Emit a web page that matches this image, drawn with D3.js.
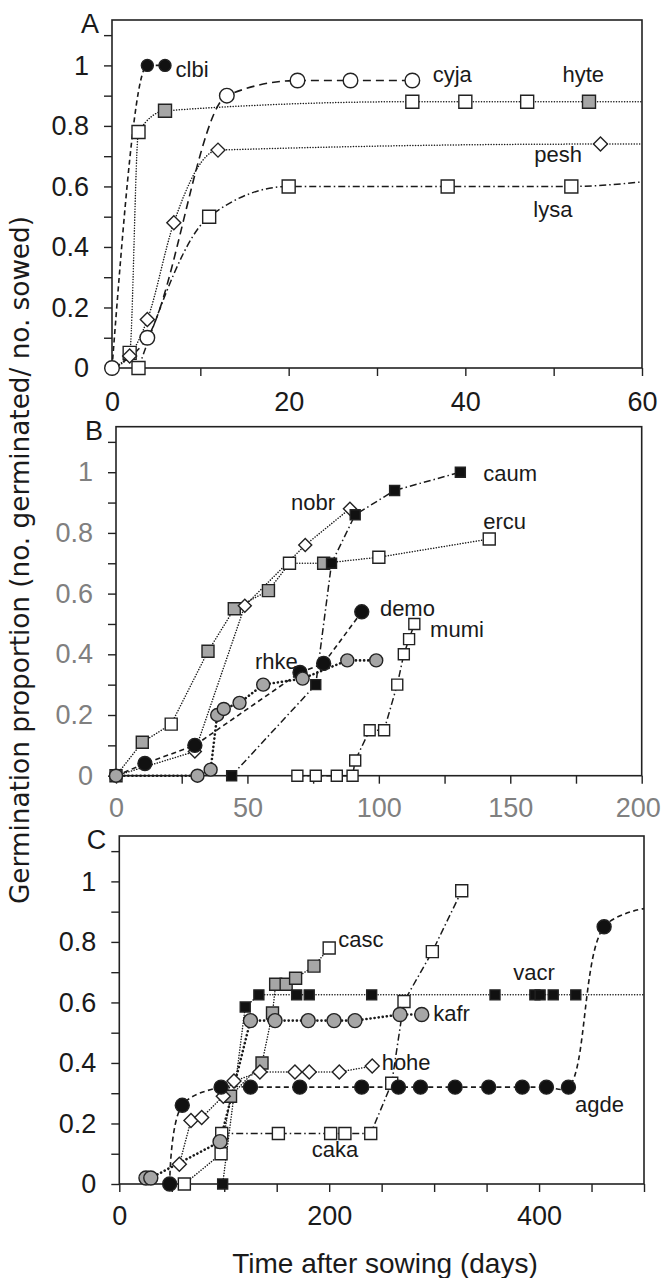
<!DOCTYPE html>
<html>
<head>
<meta charset="utf-8">
<script src="https://cdn.jsdelivr.net/npm/d3@7"></script>
<style>
  body { margin: 0; background: #fff; }
  svg { display: block; font-family: "Liberation Sans", Arial, sans-serif; }
</style>
</head>
<body>
<svg id="chart" width="662" height="1278"></svg>
<script>
// --- Data: [day, proportion, marker fill] ('w' white, 'g' grey, 'b' black, '' = no marker) ---
// Panel A
const aClbi = [[0, 0, ''], [4, 1, 'b'], [6, 1, 'b']];
const aCyja = [[0, 0, 'w'], [4, 0.1, 'w'], [13, 0.9, 'w'], [21, 0.95, 'w'], [27, 0.95, 'w'], [34, 0.95, 'w']];
const aHyte = [[0, 0, ''], [2, 0.05, 'w'], [3, 0.78, 'w'], [6, 0.85, 'g'], [34, 0.88, 'w'], [40, 0.88, 'w'], [47, 0.88, 'w'], [54, 0.88, 'g'], [60, 0.88, '']];
const aPesh = [[0, 0, ''], [2, 0.04, 'w'], [4, 0.16, 'w'], [7, 0.48, 'w'], [12, 0.72, 'w'], [55.3, 0.74, 'w'], [60, 0.74, '']];
const aLysa = [[3, 0, 'w'], [11, 0.5, 'w'], [20, 0.6, 'w'], [38, 0.6, 'w'], [52, 0.6, 'w'], [60, 0.615, '']];

// Panel B
const bErcu = [[0, 0, 'g'], [10, 0.11, 'g'], [21, 0.17, 'w'], [35, 0.41, 'g'], [45, 0.55, 'g'], [58, 0.61, 'g'], [66, 0.70, 'w'], [79, 0.70, 'g'], [100, 0.72, 'w'], [142, 0.78, 'w']];
const bNobr = [[0, 0, ''], [30, 0.08, 'w'], [49, 0.56, 'w'], [72, 0.76, 'w'], [89, 0.88, 'w']];
const bCaum = [[44, 0, 'b'], [76, 0.30, 'b'], [82, 0.70, 'b'], [91, 0.86, 'b'], [106, 0.94, 'b'], [131, 1.0, 'b']];
const bDemo = [[0, 0, ''], [11, 0.04, 'b'], [30, 0.10, 'b'], [70, 0.34, 'b'], [79, 0.37, 'b'], [93.5, 0.54, 'b']];
const bRhke = [[0, 0, 'g'], [31, 0, 'g'], [36, 0.02, 'g'], [38.5, 0.20, 'g'], [41, 0.22, 'g'], [47, 0.24, 'g'], [56, 0.30, 'g'], [71, 0.32, 'g'], [88, 0.38, 'g'], [99, 0.38, 'g']];
const bMumi = [[69, 0, 'w'], [76, 0, 'w'], [84, 0, 'w'], [90, 0, 'w'], [91, 0.05, 'w'], [96.5, 0.15, 'w'], [102, 0.15, 'w'], [107, 0.30, 'w'], [109.5, 0.40, 'w'], [111.5, 0.45, 'w'], [113.5, 0.50, 'w']];

// Panel C
const cKafr = [[25.4, 0.02, 'g'], [30, 0.02, 'g'], [96, 0.14, 'g'], [125, 0.54, 'g'], [148.4, 0.54, 'g'], [180, 0.54, 'g'], [204.6, 0.54, 'g'], [224.6, 0.54, 'g'], [267.5, 0.56, 'g'], [288.2, 0.56, 'g']];
const cCasc = [[62, 0, 'w'], [97, 0.10, 'w'], [106, 0.29, 'g'], [136, 0.40, 'g'], [146, 0.565, 'g'], [149, 0.66, 'g'], [159, 0.66, 'g'], [168, 0.68, 'g'], [185.5, 0.72, 'g'], [200, 0.78, 'w']];
const cHohe = [[57.2, 0.065, 'w'], [68.3, 0.21, 'w'], [78.5, 0.22, 'w'], [99.1, 0.29, 'w'], [109.3, 0.34, 'w'], [134, 0.37, 'w'], [167.4, 0.37, 'w'], [181, 0.37, 'w'], [209.6, 0.37, 'w'], [241, 0.39, 'w']];
const cCaka = [[97.6, 0.167, 'w'], [151.6, 0.167, 'w'], [201.4, 0.167, 'w'], [215, 0.167, 'w'], [239.6, 0.167, 'w'], [259.6, 0.333, 'w'], [271.3, 0.603, 'w'], [298.3, 0.768, 'w'], [326.3, 0.969, 'w']];
const cVacr = [[98.5, 0, 'b'], [120, 0.585, 'b'], [133, 0.625, 'b'], [169, 0.625, 'b'], [181, 0.625, 'b'], [240.5, 0.625, 'b'], [358, 0.625, 'b'], [396, 0.625, 'b'], [401, 0.625, 'b'], [413.5, 0.625, 'b'], [435, 0.625, 'b'], [500, 0.625, '']];
const cAgde = [[48, 0, 'b'], [60, 0.26, 'b'], [97, 0.32, 'b'], [125, 0.32, 'b'], [172, 0.32, 'b'], [231, 0.32, 'b'], [266, 0.32, 'b'], [287, 0.32, 'b'], [320, 0.32, 'b'], [352, 0.32, 'b'], [384, 0.32, 'b'], [407, 0.32, 'b'], [428, 0.32, 'b'], [462, 0.85, 'b'], [500, 0.91, '']];

// --- Axis ticks ---
const yTicks = d3.range(0, 1.11, 0.1);
const yTickLabels = [0, 0.2, 0.4, 0.6, 0.8, 1];
const xTicksA = d3.range(0, 61, 10), xLabelsA = [0, 20, 40, 60];
const xTicksB = d3.range(0, 201, 25), xLabelsB = [0, 50, 100, 150, 200];
const xTicksC = d3.range(0, 501, 50), xLabelsC = [0, 200, 400];

// --- Line styles ---
const STYLE = {
    dash:     { dash: "5,3.5", width: 1.6, cap: "butt" },
    longdash: { dash: "8,5", width: 1.6, cap: "butt" },
    dot:      { dash: "0.1,2.6", width: 1.5, cap: "round" },
    dotBold:  { dash: "0.1,4", width: 2.6, cap: "round" },
    dashdot:  { dash: "7,3,1.5,3", width: 1.5, cap: "butt" }
};

// --- Panels ---
const panels = [
    {
        letter: "A", left: 112, right: 642, top: 20, bottom: 368, xMax: 60,
        xTicks: xTicksA, xLabels: xLabelsA, textColor: "#1a1a1a", xPad: 16, curve: "monotone",
        series: [
            { name: "clbi", data: aClbi, line: "dash", shape: "circle", size: 6, lab: [7.2, 0.962] },
            { name: "hyte", data: aHyte, line: "dot", shape: "square", size: 13, lab: [51, 0.945] },
            { name: "pesh", data: aPesh, line: "dot", shape: "diamond", size: 7, lab: [47.8, 0.682] },
            { name: "lysa", data: aLysa, line: "dashdot", shape: "square", size: 13, lab: [47.7, 0.50] },
            { name: "cyja", data: aCyja, line: "longdash", shape: "circle", size: 7.3, lab: [36.3, 0.945] }
        ]
    },
    {
        letter: "B", left: 116, right: 641.7, top: 426.7, bottom: 775.7, xMax: 200,
        xTicks: xTicksB, xLabels: xLabelsB, textColor: "#808080", xPad: 14, curve: "linear",
        series: [
            { name: "ercu", data: bErcu, line: "dot", shape: "square", size: 12, lab: [139.7, 0.813] },
            { name: "nobr", data: bNobr, line: "dot", shape: "diamond", size: 6.5, lab: [66.6, 0.877] },
            { name: "mumi", data: bMumi, line: "dashdot", shape: "square", size: 11, lab: [119.5, 0.458] },
            { name: "caum", data: bCaum, line: "dashdot", shape: "square", size: 10, lab: [139.7, 0.97] },
            { name: "demo", data: bDemo, line: "dash", shape: "circle", size: 7, lab: [100.4, 0.527] },
            { name: "rhke", data: bRhke, line: "dotBold", shape: "circle", size: 6.5, lab: [52.9, 0.352] }
        ]
    },
    {
        letter: "C", left: 119.3, right: 644, top: 836, bottom: 1184, xMax: 500,
        xTicks: xTicksC, xLabels: xLabelsC, textColor: "#1a1a1a", xPad: 14, curve: "linear",
        series: [
            { name: "casc", data: cCasc, line: "dot", shape: "square", size: 12, lab: [208.7, 0.784] },
            { name: "hohe", data: cHohe, line: "dot", shape: "diamond", size: 7, lab: [250, 0.377] },
            { name: "caka", data: cCaka, line: "dashdot", shape: "square", size: 12, lab: [183.3, 0.09] },
            { name: "kafr", data: cKafr, line: "dotBold", shape: "circle", size: 7, lab: [299.2, 0.537] },
            { name: "vacr", data: cVacr, line: "dot", shape: "square", size: 10, lab: [375.4, 0.674] },
            { name: "agde", data: cAgde, line: "dash", shape: "circle", size: 7, lab: [434.2, 0.239], curve: "smooth" }
        ]
    }
];

const FILL = { w: "#ffffff", g: "#a6a6a6", b: "#111111" };
const CURVES = {
    linear: d3.curveLinear,
    monotone: d3.curveMonotoneX,
    smooth: d3.curveCatmullRom.alpha(0.5)
};

const svg = d3.select("#chart");
svg.append("rect").attr("width", 662).attr("height", 1278).attr("fill", "#fff");

// Helper: marker path centred on 0,0
function markerPath(shape, size) {
    if (shape === "circle") return d3.symbol(d3.symbolCircle, Math.PI * size * size)();
    if (shape === "diamond") return d3.symbol(d3.symbolSquare, 2 * size * size)();
    return d3.symbol(d3.symbolSquare, size * size)();
}

function drawPanel(p) {
    const x = d3.scaleLinear().domain([0, p.xMax]).range([p.left, p.right]);
    const y = d3.scaleLinear().domain([0, 1.15]).range([p.bottom, p.top]);

    const g = svg.append("g");

    // Y axis
    g.append("g")
        .attr("transform", `translate(${p.left},0)`)
        .call(d3.axisLeft(y).tickValues(yTicks).tickSize(8).tickPadding(15)
            .tickFormat(v => yTickLabels.some(t => Math.abs(t - v) < 1e-6) ? d3.format("~g")(+v.toFixed(1)) : ""))
        .call(ax => ax.select(".domain").remove())
        .call(ax => ax.selectAll("line").attr("stroke", "#222").attr("stroke-width", 1.4))
        .call(ax => ax.selectAll("text").attr("font-size", 27).attr("fill", p.textColor)
            .attr("font-family", "Liberation Sans, Arial, sans-serif"));

    // X axis
    g.append("g")
        .attr("transform", `translate(0,${p.bottom})`)
        .call(d3.axisBottom(x).tickValues(p.xTicks).tickSize(8).tickPadding(p.xPad)
            .tickFormat(v => p.xLabels.includes(v) ? String(v) : ""))
        .call(ax => ax.select(".domain").remove())
        .call(ax => ax.selectAll("line").attr("stroke", "#222").attr("stroke-width", 1.4))
        .call(ax => ax.selectAll("text").attr("font-size", 27).attr("fill", p.textColor)
            .attr("font-family", "Liberation Sans, Arial, sans-serif")
            .attr("dx", v => v === p.xMax && p.xMax >= 100 ? -4 : 0));

    // Frame
    g.append("rect")
        .attr("x", p.left).attr("y", p.top)
        .attr("width", p.right - p.left).attr("height", p.bottom - p.top)
        .attr("fill", "none").attr("stroke", "#222").attr("stroke-width", 1.6);

    // Panel letter
    g.append("text")
        .attr("x", p.left - 13).attr("y", p.top + 13)
        .attr("text-anchor", "end")
        .attr("font-size", 27).attr("fill", "#1a1a1a")
        .text(p.letter);

    // Lines
    p.series.forEach(s => {
        const st = STYLE[s.line];
        const line = d3.line()
            .x(d => x(d[0]))
            .y(d => y(d[1]))
            .curve(CURVES[s.curve || p.curve]);
        g.append("path")
            .datum(s.data)
            .attr("fill", "none")
            .attr("stroke", "#1a1a1a")
            .attr("stroke-width", st.width)
            .attr("stroke-dasharray", st.dash)
            .attr("stroke-linecap", st.cap)
            .attr("d", line);
    });

    // Markers
    p.series.forEach(s => {
        g.selectAll(null)
            .data(s.data.filter(d => d[2]))
            .join("path")
            .attr("transform", d => `translate(${x(d[0])},${y(d[1])})` + (s.shape === "diamond" ? " rotate(45)" : ""))
            .attr("d", markerPath(s.shape, s.size))
            .attr("fill", d => FILL[d[2]])
            .attr("stroke", "#222")
            .attr("stroke-width", 1.4);
    });

    // Species labels
    p.series.forEach(s => {
        g.append("text")
            .attr("x", x(s.lab[0]))
            .attr("y", y(s.lab[1]))
            .attr("font-size", 22)
            .attr("fill", "#1a1a1a")
            .text(s.name);
    });
}

panels.forEach(drawPanel);

// --- Axis titles ---
svg.append("text")
    .attr("transform", "translate(29,560) rotate(-90)")
    .attr("text-anchor", "middle")
    .attr("font-family", "Liberation Sans Narrow, DejaVu Sans Condensed, Arial, sans-serif")
    .attr("font-size", 27)
    .attr("textLength", 688)
    .attr("lengthAdjust", "spacingAndGlyphs")
    .attr("fill", "#1a1a1a")
    .text("Germination proportion (no. germinated/ no. sowed)");

svg.append("text")
    .attr("x", 385)
    .attr("y", 1273)
    .attr("text-anchor", "middle")
    .attr("font-size", 28)
    .attr("fill", "#1a1a1a")
    .text("Time after sowing (days)");
</script>
</body>
</html>
